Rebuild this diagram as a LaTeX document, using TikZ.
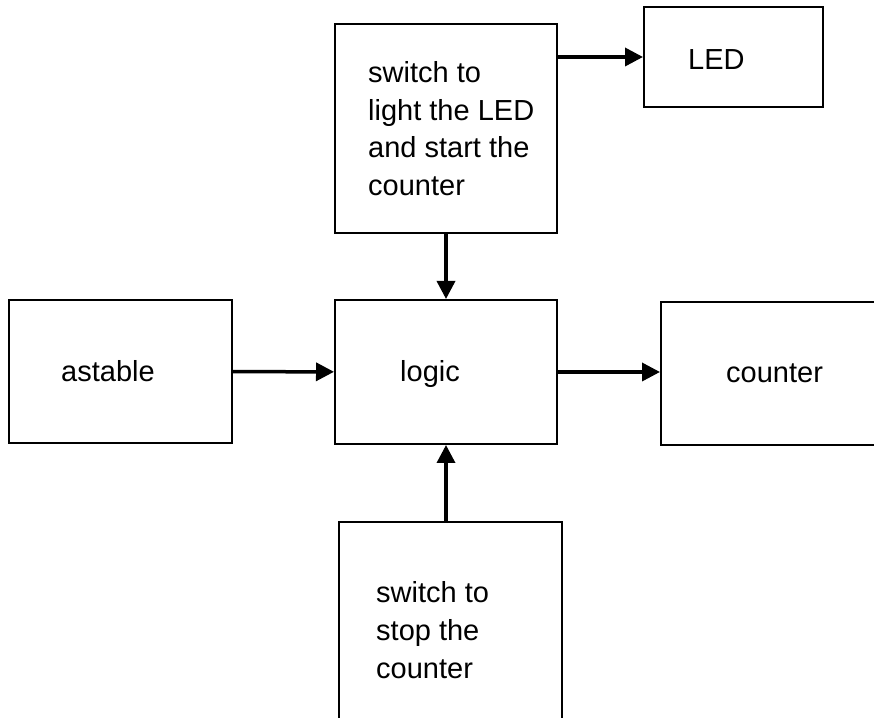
\documentclass[tikz,border=0pt]{standalone}
\usepackage{fontspec}
\setmainfont{Liberation Sans}
\usetikzlibrary{arrows.meta,positioning}
\begin{document}
\begin{tikzpicture}[x=1pt,y=1pt,
		box/.style={draw,line width=2pt,inner sep=0pt},
		txt/.style={inner sep=0pt,align=left,font=\fontsize{29}{37.7}\selectfont},
		arr/.style={line width=3.5pt,-{Triangle[length=18pt,width=18pt]}}]
		\useasboundingbox (0,0) rectangle (874,717);
		\clip (0,0) rectangle (874,717);
		% blocks
		\node[box,minimum width=222pt,minimum height=209pt] (sw1) at (446,588.5) {};
		\node[box,minimum width=179pt,minimum height=100pt] (led) at (733.5,660) {};
		\node[box,minimum width=223pt,minimum height=143pt] (astable) at (120.5,345.5) {};
		\node[box,minimum width=222pt,minimum height=144pt] (logic) at (446,345) {};
		\node[box,minimum width=230pt,minimum height=143pt] (counter) at (776,343.5) {};
		\node[box,minimum width=223pt,minimum height=216pt] (sw2) at (450.5,87) {};
		% texts
		\node[txt,right=34pt of sw1.west] (sw1txt) {switch to\\light the LED\\and start the\\counter};
		\node[txt,right=45pt of led.west,yshift=-3pt] (ledtxt) {LED};
		\node[txt,right=53pt of astable.west] (astabletxt) {astable};
		\node[txt,right=66pt of logic.west,yshift=-2pt] (logictxt) {logic};
		\node[txt,right=66pt of counter.west] (countertxt) {counter};
		\node[txt,right=38pt of sw2.west] (sw2txt) {switch to\\stop the\\counter};
		% connections
		\draw[arr] (led.west -| sw1.east) -- (led.west);
		\draw[arr] (sw1.south) -- (logic.north);
		\draw[arr] (astable) -- (logic);
		\draw[arr] (logic.east) -- (logic.east -| counter.west);
		\draw[arr] (logic.south |- sw2.north) -- (logic.south);
	\end{tikzpicture}
\end{document}
